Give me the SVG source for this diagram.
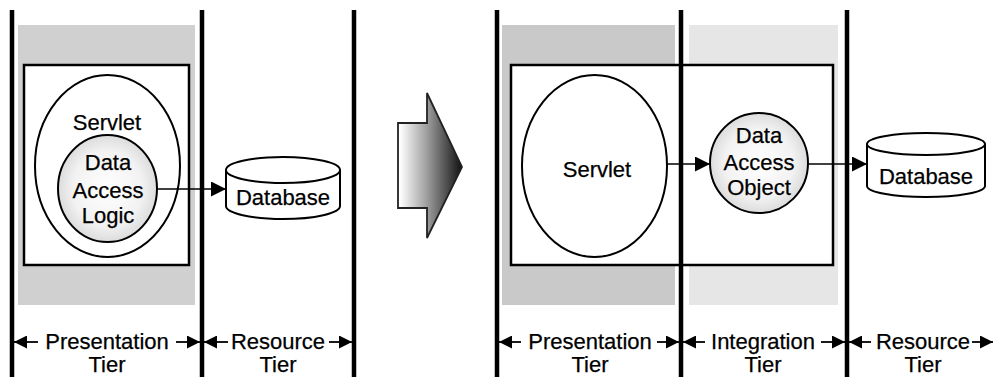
<svg xmlns="http://www.w3.org/2000/svg" width="994" height="377" viewBox="0 0 994 377">
<style>
.t{font-family:"Liberation Sans",Arial,sans-serif;font-size:22px;fill:#000;text-anchor:middle;stroke:#000;stroke-width:0.25}
.tier{stroke:#000;stroke-width:4.5;fill:none}
.box{fill:#fff;stroke:#000;stroke-width:2.5}
.el{fill:#fff;stroke:#000;stroke-width:2}
.in{fill:url(#rg);stroke:#000;stroke-width:2}
.cyl{fill:#fff;stroke:#000;stroke-width:2}
.conn{stroke:#000;stroke-width:1.6;fill:none}
.dim{stroke:#000;stroke-width:1.8;fill:none}
</style>
<defs>
<radialGradient id="rg" cx="50%" cy="50%" r="50%">
<stop offset="0" stop-color="#ffffff"/>
<stop offset="0.7" stop-color="#f2f2f2"/>
<stop offset="1" stop-color="#dcdcdc"/>
</radialGradient>
<linearGradient id="lg" gradientUnits="userSpaceOnUse" x1="400" y1="0" x2="462" y2="0">
<stop offset="0" stop-color="#ffffff"/>
<stop offset="0.45" stop-color="#9a9a9a"/>
<stop offset="1" stop-color="#111111"/>
</linearGradient>
<marker id="ah" viewBox="0 0 15 15" refX="15" refY="7.5" markerWidth="15" markerHeight="15" markerUnits="userSpaceOnUse" orient="auto">
<path d="M0,0 L15,7.5 L0,15 Z" fill="#000"/>
</marker>
<marker id="dh" viewBox="0 0 13 13" refX="13" refY="6.5" markerWidth="13" markerHeight="13" markerUnits="userSpaceOnUse" orient="auto">
<path d="M0,0 L13,6.5 L0,13 Z" fill="#000"/>
</marker>
</defs>
<rect width="994" height="377" fill="#fff"/>

<!-- tier bands -->
<g id="bands">
<rect x="18" y="25" width="177" height="280" fill="#d0d0d0"/>
<rect x="502" y="25" width="173" height="280" fill="#c9c9c9"/>
<rect x="689" y="25" width="149" height="280" fill="#e6e6e6"/>
</g>

<!-- containers -->
<g id="container-left"><rect class="box" x="24" y="65" width="165" height="200"/></g>
<g id="container-right"><rect class="box" x="511" y="65" width="322" height="200"/></g>

<!-- tier boundary lines -->
<g id="tier-lines">
<line class="tier" x1="12" y1="10" x2="12" y2="377"/>
<line class="tier" x1="202" y1="10" x2="202" y2="377"/>
<line class="tier" x1="354" y1="10" x2="354" y2="377"/>
<line class="tier" x1="497" y1="10" x2="497" y2="377"/>
<line class="tier" x1="681" y1="10" x2="681" y2="377"/>
<line class="tier" x1="847" y1="10" x2="847" y2="377"/>
</g>

<!-- left diagram nodes -->
<g id="servlet-left">
<ellipse class="el" cx="107.5" cy="166" rx="72.5" ry="91"/>
<text class="t" x="107" y="130">Servlet</text>
</g>
<g id="dal-left">
<ellipse class="in" cx="107.5" cy="188.5" rx="49.5" ry="53.5"/>
<text class="t" x="108" y="170">Data</text>
<text class="t" x="108" y="198">Access</text>
<text class="t" x="108" y="223">Logic</text>
</g>
<g id="db-left">
<path class="cyl" d="M226,170 L226,206 A57,13 0 0 0 340,206 L340,170 A57,13 0 0 0 226,170 Z"/>
<path class="cyl" d="M226,170 A57,13 0 0 0 340,170" fill="none"/>
<text class="t" x="283" y="205">Database</text>
</g>

<!-- transition arrow -->
<g id="transition">
<path d="M398,123 L427,123 L427,93 L462,167 L427,238 L427,208 L398,208 Z" fill="url(#lg)" stroke="#222" stroke-width="1.8" stroke-linejoin="miter"/>
</g>

<!-- right diagram nodes -->
<g id="servlet-right">
<ellipse class="el" cx="594.5" cy="166" rx="72.5" ry="91"/>
<text class="t" x="597" y="177">Servlet</text>
</g>
<g id="dao-right">
<ellipse class="in" cx="759" cy="163" rx="49" ry="50"/>
<text class="t" x="759" y="143">Data</text>
<text class="t" x="759" y="170">Access</text>
<text class="t" x="759" y="195">Object</text>
</g>
<g id="db-right">
<path class="cyl" d="M867,144 L867,186 A59,11 0 0 0 985,186 L985,144 A59,11 0 0 0 867,144 Z"/>
<path class="cyl" d="M867,144 A59,11 0 0 0 985,144" fill="none"/>
<text class="t" x="926" y="184">Database</text>
</g>

<!-- connectors -->
<g id="connectors">
<line class="conn" x1="157" y1="189" x2="226" y2="189" marker-end="url(#ah)"/>
<line class="conn" x1="667" y1="164" x2="710" y2="164" marker-end="url(#ah)"/>
<line class="conn" x1="808" y1="164" x2="867" y2="164" marker-end="url(#ah)"/>
</g>

<!-- tier labels with dimension arrows -->
<g id="labels">
<line class="dim" x1="38" y1="342" x2="14" y2="342" marker-end="url(#dh)"/>
<text class="t" x="107" y="349">Presentation</text>
<line class="dim" x1="176" y1="342" x2="200" y2="342" marker-end="url(#dh)"/>
<text class="t" x="107" y="372">Tier</text>

<line class="dim" x1="228" y1="342" x2="204" y2="342" marker-end="url(#dh)"/>
<text class="t" x="278" y="349">Resource</text>
<line class="dim" x1="329" y1="342" x2="352" y2="342" marker-end="url(#dh)"/>
<text class="t" x="278" y="372">Tier</text>

<line class="dim" x1="521" y1="342" x2="499" y2="342" marker-end="url(#dh)"/>
<text class="t" x="590" y="349">Presentation</text>
<line class="dim" x1="657" y1="342" x2="679" y2="342" marker-end="url(#dh)"/>
<text class="t" x="590" y="372">Tier</text>

<line class="dim" x1="705" y1="342" x2="683" y2="342" marker-end="url(#dh)"/>
<text class="t" x="763" y="349">Integration</text>
<line class="dim" x1="821" y1="342" x2="845" y2="342" marker-end="url(#dh)"/>
<text class="t" x="763" y="372">Tier</text>

<line class="dim" x1="871" y1="342" x2="849" y2="342" marker-end="url(#dh)"/>
<text class="t" x="923" y="349">Resource</text>
<line class="dim" x1="972" y1="342" x2="993" y2="342" marker-end="url(#dh)"/>
<text class="t" x="923" y="372">Tier</text>
</g>
</svg>
